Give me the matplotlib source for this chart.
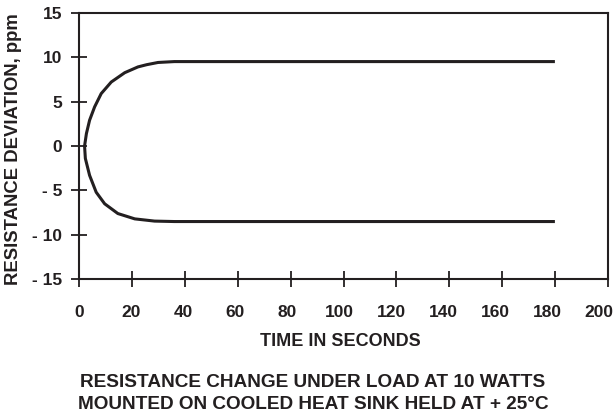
import matplotlib
matplotlib.use('Agg')
import matplotlib.pyplot as plt
import matplotlib.transforms as mtransforms

# curve: upper branch (right to left), then lower branch
t_upper = [180, 36, 29.8, 25.5, 22.2, 17.2, 12.1, 8.3, 5.8, 3.9, 2.7, 2.0]
v_upper = [9.5, 9.5, 9.4, 9.15, 8.9, 8.25, 7.2, 5.9, 4.4, 2.9, 1.4, 0.0]
t_lower = [2.3, 3.9, 6.4, 9.6, 14.6, 21.0, 28.5, 36, 180]
v_lower = [-1.4, -3.3, -5.2, -6.5, -7.6, -8.2, -8.45, -8.5, -8.5]

x_ticks = [0, 20, 40, 60, 80, 100, 120, 140, 160, 180, 200]
y_ticks = [-15, -10, -5, 0, 5, 10, 15]
y_labels = ['- 15', '- 10', '- 5', '0', '5', '10', '15']

INK = '#231f20'
plt.rcParams['font.family'] = ['Liberation Sans', 'DejaVu Sans']
plt.rcParams['font.weight'] = 'bold'

fig = plt.figure(figsize=(6.16, 4.18), dpi=100)
ax = fig.add_axes([0.1287, 0.3318, 0.8579, 0.6378])

ax.plot(t_upper + t_lower, v_upper + v_lower, color=INK, lw=2.2,
        solid_capstyle='butt', solid_joinstyle='round')

ax.set_xlim(0, 200)
ax.set_ylim(-15, 15)
ax.set_xticks(x_ticks)
ax.set_yticks(y_ticks)
ax.set_yticklabels(y_labels)
for s in ax.spines.values():
    s.set_linewidth(1.5)
    s.set_color(INK)
ax.tick_params(axis='both', direction='inout', length=11, width=1.3,
               colors=INK, labelsize=12.5)
ax.tick_params(axis='x', pad=13)
ax.tick_params(axis='y', pad=7)

# the x labels in the original sit a little left of their ticks, more so to the right
for t, lab in zip(x_ticks, ax.get_xticklabels()):
    lab.set_fontweight('bold')
    dx = -8.5 * t / 200 / 100
    lab.set_transform(lab.get_transform() +
                      mtransforms.ScaledTranslation(dx, 0, fig.dpi_scale_trans))
for lab in ax.get_yticklabels():
    lab.set_fontweight('bold')

fig.text(340 / 616, 1 - 341 / 418, 'TIME IN SECONDS', ha='center', va='center',
         fontsize=13, fontweight='bold', color=INK)
fig.text(14 / 616, 1 - 149 / 418, 'RESISTANCE DEVIATION, ppm', rotation=90,
         ha='center', va='center', fontsize=13.3, fontweight='bold', color=INK)
fig.text(313 / 616, 1 - 393.5 / 418,
         'RESISTANCE CHANGE UNDER LOAD AT 10 WATTS\n'
         'MOUNTED ON COOLED HEAT SINK HELD AT + 25\u00b0C',
         ha='center', va='center', fontsize=13.7, fontweight='bold',
         color=INK, linespacing=1.35)

fig.savefig('out.png', dpi=100)
